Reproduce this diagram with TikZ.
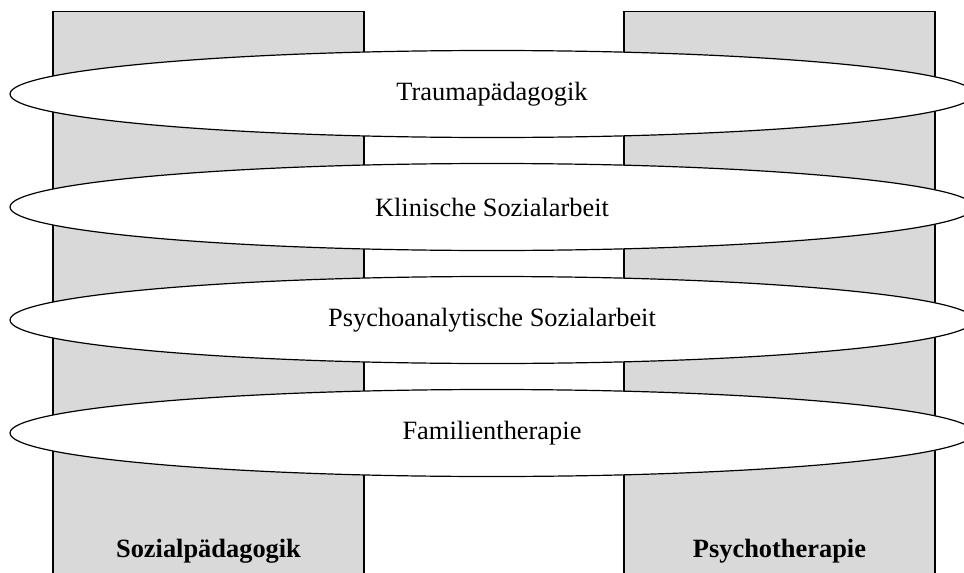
\documentclass[tikz,border=0pt]{standalone}
\usepackage{fontspec}
\setmainfont{Liberation Serif}
\usetikzlibrary{shapes.geometric}
\definecolor{pillargray}{RGB}{217,217,217}
\tikzset{
  pillar/.style={draw=black, fill=pillargray, line width=1.2pt, rectangle,
    minimum width=311pt, minimum height=580pt, inner sep=0pt, anchor=north},
  pillarlabel/.style={font=\fontsize{26.4}{30}\selectfont\bfseries, anchor=base, inner sep=0pt},
  ring/.style={draw=black, fill=white, line width=1.2pt, ellipse,
    minimum width=964pt, minimum height=87pt, inner sep=0pt,
    font=\fontsize{26.4}{30}\selectfont}
}
\begin{document}
\begin{tikzpicture}[x=1pt, y=-1pt]
  \useasboundingbox (0,0) rectangle (964,573);
  \clip (0,0) rectangle (964,573);
  % the two disciplines as vertical pillars
  \node[pillar] (sozped) at (208.5,10.5) {};
  \node[pillar] (psych) at (779.5,10.5) {};
  \node[pillarlabel] (sozpedlabel) at (208.5,557) {Sozialpädagogik};
  \node[pillarlabel] (psychlabel) at (779.5,557) {Psychotherapie};
  % the bridging fields, drawn across both pillars
  \node[ring] (trauma) at (492,94) {Traumapädagogik};
  \node[ring] (klinisch) at (492,207) {Klinische Sozialarbeit};
  \node[ring] (psa) at (492,320) {Psychoanalytische Sozialarbeit};
  \node[ring] (familie) at (492,433) {Familientherapie};
\end{tikzpicture}
\end{document}
